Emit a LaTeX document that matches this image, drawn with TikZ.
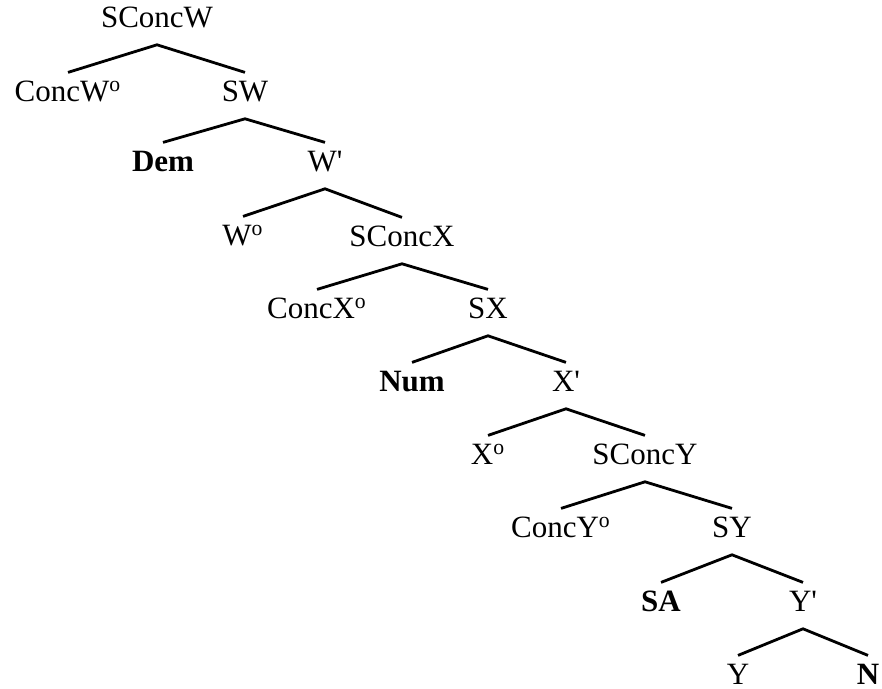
\documentclass[tikz,border=0pt]{standalone}
\usepackage{fontspec}
\setmainfont{Liberation Serif}
\usetikzlibrary{positioning}
\tikzstyle{Label} = [
	inner sep = 0pt,
	text height = 14.4pt,
	text depth = 8.4pt,
	font = \fontsize{15.5}{18}\selectfont
	]
\tikzstyle{Branch} = [line width = 1.4pt]

\begin{document}
\begin{tikzpicture}[on grid]
	\useasboundingbox (0,0) rectangle (441pt,-344.5pt);
	%nodes:
		\node [Label] (1) at (78.5pt,-10.8pt) {SConcW};
		\node [Label, below left =37pt and 44.5pt of 1] (2) {ConcW\textsuperscript{o}};
		\node [Label, below right =37pt and 44pt of 1] (3) {SW};
		\node [Label, below left =35pt and 41pt of 3] (4) {\textbf{Dem}};
		\node [Label, below right =35pt and 40pt of 3] (5) {W\textquotesingle};
		\node [Label, below left =37pt and 41pt of 5] (6) {W\textsuperscript{o}};
		\node [Label, below right =37.5pt and 38.5pt of 5] (7) {SConcX};
		\node [Label, below left =36pt and 42.5pt of 7] (8) {ConcX\textsuperscript{o}};
		\node [Label, below right =36pt and 43pt of 7] (9) {SX};
		\node [Label, below left =36.5pt and 38pt of 9] (10) {\textbf{Num}};
		\node [Label, below right =36.5pt and 39pt of 9] (11) {X\textquotesingle};
		\node [Label, below left =36.5pt and 39pt of 11] (12) {X\textsuperscript{o}};
		\node [Label, below right =36.5pt and 39.5pt of 11] (13) {SConcY};
		\node [Label, below left =36.5pt and 42pt of 13] (14) {ConcY\textsuperscript{o}};
		\node [Label, below right =36.5pt and 43.5pt of 13] (15) {SY};
		\node [Label, below left =37pt and 35.5pt of 15] (16) {\textbf{SA}};
		\node [Label, below right =37pt and 35.5pt of 15] (17) {Y\textquotesingle};
		\node [Label, below left =36.5pt and 32.5pt of 17] (18) {Y};
		\node [Label, below right =36.5pt and 32.5pt of 17] (19) {\textbf{N}};
	%edges:
		\draw[Branch] (2.north) -- (1.south) -- (3.north);
		\draw[Branch] (4.north) -- (3.south) -- (5.north);
		\draw[Branch] (6.north) -- (5.south) -- (7.north);
		\draw[Branch] (8.north) -- (7.south) -- (9.north);
		\draw[Branch] (10.north) -- (9.south) -- (11.north);
		\draw[Branch] (12.north) -- (11.south) -- (13.north);
		\draw[Branch] (14.north) -- (13.south) -- (15.north);
		\draw[Branch] (16.north) -- (15.south) -- (17.north);
		\draw[Branch] (18.north) -- (17.south) -- (19.north);
\end{tikzpicture}
\end{document}
